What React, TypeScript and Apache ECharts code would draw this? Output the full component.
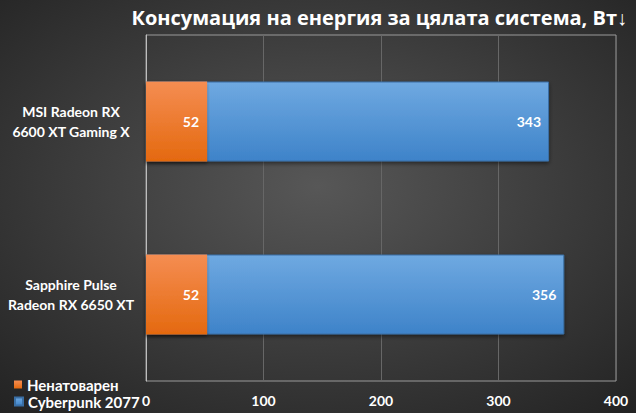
import React, { useEffect, useRef } from "react";
import * as echarts from "echarts";

const categories = ["MSI Radeon RX\n6600 XT Gaming X", "Sapphire Pulse\nRadeon RX 6650 XT"];
const idleValues = [52, 52];
const cyberpunkValues = [343, 356];
const seriesNames = ["Ненатоварен", "Cyberpunk 2077"];
const titleText = "Консумация на енергия за цялата система, Вт↓";

export default function App() {
  const ref = useRef<HTMLDivElement>(null);
  useEffect(() => {
    document.body.style.margin = "0";
    const chart = echarts.init(ref.current!, null, { renderer: "svg" });
    const font = "Lato, 'Open Sans', sans-serif";
    const grad = (a: string, b: string) =>
      new echarts.graphic.LinearGradient(0, 0, 0, 1, [
        { offset: 0, color: a },
        { offset: 1, color: b },
      ]);
    const legendBase = {
      left: 14,
      itemWidth: 8,
      itemHeight: 8,
      itemGap: 5,
      icon: "rect",
      padding: 0,
      textStyle: { color: "#ffffff", fontSize: 15, fontWeight: "bold", fontFamily: font },
    };
    chart.setOption({
      animation: false,
      backgroundColor: new echarts.graphic.RadialGradient(0.5, 0.45, 0.75, [
        { offset: 0, color: "#575757" },
        { offset: 1, color: "#222222" },
      ]),
      title: {
        text: titleText,
        right: 4,
        top: 2,
        textStyle: { color: "#ffffff", fontSize: 20, fontWeight: "bold", fontFamily: "'Open Sans', sans-serif" },
      },
      legend: [
        { ...legendBase, data: [seriesNames[0]], top: 377 },
        { ...legendBase, data: [seriesNames[1]], top: 394 },
      ],
      grid: {
        left: 146,
        right: 20,
        top: 35,
        height: 346,
        show: true,
        borderColor: "#9a9a9a",
        borderWidth: 1,
        backgroundColor: "transparent",
      },
      xAxis: {
        type: "value",
        min: 0,
        max: 400,
        interval: 100,
        axisLine: { show: false },
        axisTick: { show: false },
        splitLine: { lineStyle: { color: "#676767", width: 1 } },
        axisLabel: { color: "#ffffff", fontSize: 14, fontWeight: "bold", fontFamily: font, margin: 12 },
      },
      yAxis: {
        type: "category",
        data: categories,
        inverse: true,
        axisLine: { show: true, lineStyle: { color: "#bdbdbd", width: 1 } },
        axisTick: { show: false },
        axisLabel: {
          color: "#ffffff",
          fontSize: 14,
          fontWeight: "bold",
          fontFamily: font,
          align: "center",
          margin: 75,
          lineHeight: 20,
        },
      },
      series: [
        {
          name: seriesNames[1],
          type: "bar",
          data: cyberpunkValues,
          barWidth: 80,
          barGap: "-100%",
          itemStyle: {
            color: grad("#6fa9e1", "#3e83c9"),
            borderColor: "#3a6fa5",
            borderWidth: 1,
            shadowBlur: 4,
            shadowOffsetY: 2,
            shadowColor: "rgba(0,0,0,0.5)",
          },
          label: {
            show: true,
            position: "insideRight",
            distance: 8,
            color: "#ffffff",
            fontSize: 14,
            fontWeight: "bold",
            fontFamily: font,
          },
        },
        {
          name: seriesNames[0],
          type: "bar",
          data: idleValues,
          barWidth: 80,
          barGap: "-100%",
          itemStyle: {
            color: grad("#f58d52", "#e4690f"),
            shadowBlur: 3,
            shadowOffsetY: 2,
            shadowColor: "rgba(0,0,0,0.4)",
          },
          label: {
            show: true,
            position: "insideRight",
            distance: 8,
            color: "#ffffff",
            fontSize: 14,
            fontWeight: "bold",
            fontFamily: font,
          },
        },
      ],
    });
    return () => chart.dispose();
  }, []);
  return <div ref={ref} style={{ width: 636, height: 413 }} />;
}
